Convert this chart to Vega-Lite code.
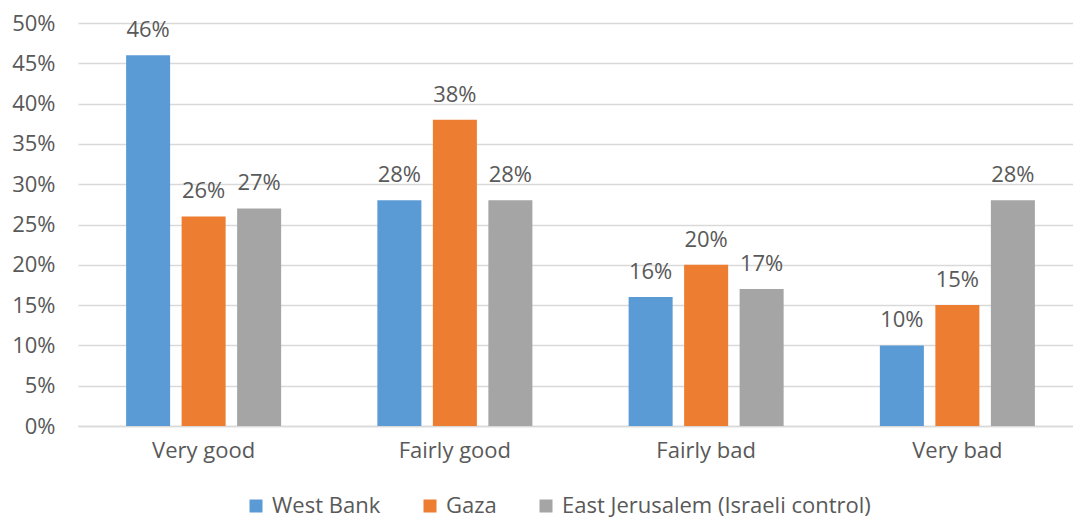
{
  "$schema": "https://vega.github.io/schema/vega-lite/v6.json",
  "autosize": "none",
  "width": 995,
  "height": 403,
  "padding": {"left": 78, "top": 23, "right": 0, "bottom": 97},
  "data": {"values": [
    {"cat": "Very good", "region": "West Bank", "v": 0.46},
    {"cat": "Very good", "region": "Gaza", "v": 0.26},
    {"cat": "Very good", "region": "East Jerusalem (Israeli control)", "v": 0.27},
    {"cat": "Fairly good", "region": "West Bank", "v": 0.28},
    {"cat": "Fairly good", "region": "Gaza", "v": 0.38},
    {"cat": "Fairly good", "region": "East Jerusalem (Israeli control)", "v": 0.28},
    {"cat": "Fairly bad", "region": "West Bank", "v": 0.16},
    {"cat": "Fairly bad", "region": "Gaza", "v": 0.20},
    {"cat": "Fairly bad", "region": "East Jerusalem (Israeli control)", "v": 0.17},
    {"cat": "Very bad", "region": "West Bank", "v": 0.10},
    {"cat": "Very bad", "region": "Gaza", "v": 0.15},
    {"cat": "Very bad", "region": "East Jerusalem (Israeli control)", "v": 0.28}
  ]},
  "encoding": {
    "x": {"field": "cat", "type": "nominal", "sort": null,
      "scale": {"range": [0, 1005], "paddingInner": 0.383, "paddingOuter": 0.1915},
      "axis": {"title": null, "labelAngle": 0, "ticks": false, "domainColor": "#d9d9d9", "domainWidth": 1.5, "labelPadding": 14, "labelFontSize": 22, "labelColor": "#595959", "labelFont": "Open Sans"}},
    "xOffset": {"field": "region", "type": "nominal", "sort": ["West Bank", "Gaza", "East Jerusalem (Israeli control)"],
      "scale": {"paddingInner": 0.207, "paddingOuter": 0}},
    "y": {"field": "v", "type": "quantitative",
      "scale": {"domain": [0, 0.5]},
      "axis": {"title": null, "format": ".0%", "values": [0,0.05,0.1,0.15,0.2,0.25,0.3,0.35,0.4,0.45,0.5], "labelOverlap": false, "domain": false, "ticks": false, "labelPadding": 23, "labelFontSize": 22, "labelColor": "#595959", "labelFont": "Open Sans", "gridColor": "#d9d9d9", "gridWidth": 1.5}},
    "color": {"field": "region", "type": "nominal", "sort": ["West Bank", "Gaza", "East Jerusalem (Israeli control)"],
      "scale": {"domain": ["West Bank", "Gaza", "East Jerusalem (Israeli control)"], "range": ["#5B9BD5", "#ED7D31", "#A5A5A5"]},
      "legend": {"title": null, "orient": "none", "direction": "horizontal", "legendX": 167, "legendY": 472, "symbolType": "square", "symbolSize": 169, "symbolOpacity": 1, "symbolStrokeWidth": 0, "labelFontSize": 22, "labelColor": "#595959", "labelFont": "Open Sans", "labelOffset": 5, "labelLimit": 500, "columnPadding": 38}}
  },
  "layer": [
    {"mark": {"type": "bar"}},
    {"mark": {"type": "text", "baseline": "alphabetic", "dy": -18, "fontSize": 22, "font": "Open Sans", "color": "#595959"},
     "encoding": {"text": {"field": "v", "type": "quantitative", "format": ".0%"}, "color": {"value": "#595959"}}}
  ],
  "config": {"view": {"stroke": null}}
}
